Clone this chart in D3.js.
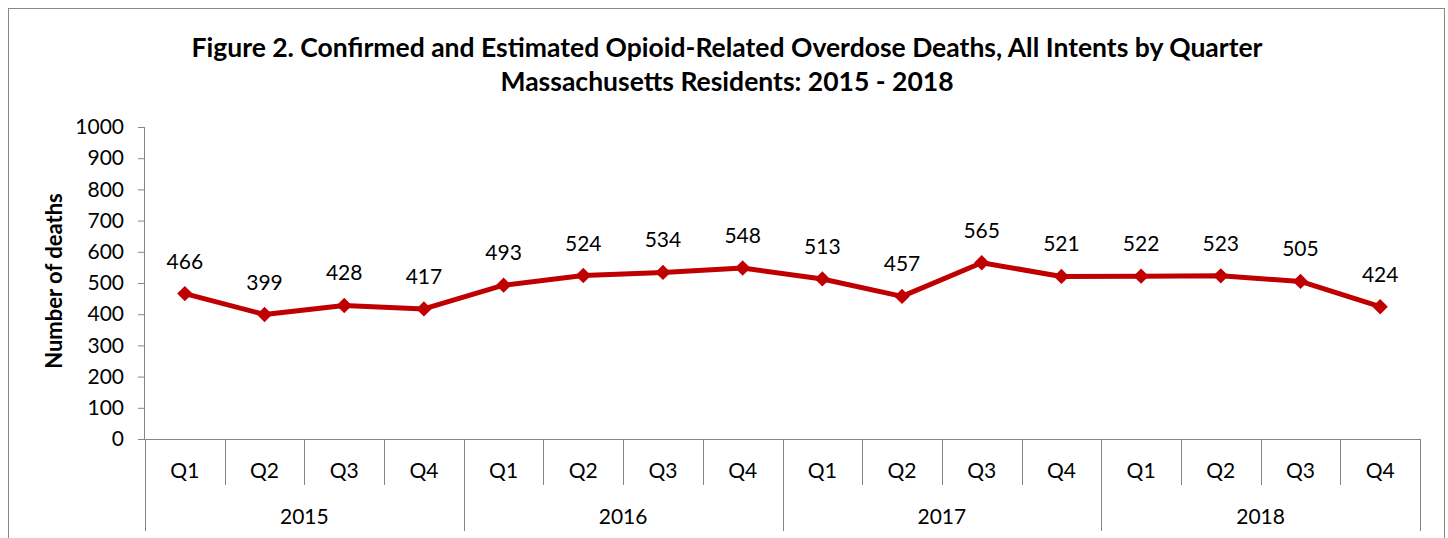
<!DOCTYPE html>
<html>
<head>
<meta charset="utf-8">
<script src="https://cdn.jsdelivr.net/npm/d3@7"></script>
<style>
  body { margin: 0; background: #fff; }
  svg { display: block; font-family: Lato, "Open Sans", sans-serif; }
</style>
</head>
<body>
<div id="chart"></div>
<script>
const years = ["2015", "2016", "2017", "2018"];
const quarters = ["Q1", "Q2", "Q3", "Q4"];
const deaths = [466, 399, 428, 417, 493, 524, 534, 548, 513, 457, 565, 521, 522, 523, 505, 424];
const yTicks = [0, 100, 200, 300, 400, 500, 600, 700, 800, 900, 1000];

const width = 1448;
const height = 538;
const margin = { top: 127, right: 28, bottom: 99, left: 145 };
const innerW = width - margin.left - margin.right;
const innerH = height - margin.top - margin.bottom;

const lineColor = "#c00000";
const axisColor = "#868686";
const fontSize = 21;

const svg = d3.select("#chart")
  .append("svg")
  .attr("width", width)
  .attr("height", height);

// outer frame
svg.append("rect")
  .attr("x", 8.5).attr("y", 8.5)
  .attr("width", 1436).attr("height", 560)
  .attr("fill", "none")
  .attr("stroke", "#888")
  .attr("stroke-width", 1);

// title
const title = svg.append("text")
  .attr("text-anchor", "middle")
  .attr("font-weight", "bold")
  .attr("font-size", 26.5)
  .attr("fill", "#000");
title.append("tspan").attr("x", 727).attr("y", 57)
  .text("Figure 2. Confirmed and Estimated Opioid-Related Overdose Deaths, All Intents by Quarter");
title.append("tspan").attr("x", 727).attr("y", 91)
  .text("Massachusetts Residents: 2015 - 2018");

const g = svg.append("g")
  .attr("transform", `translate(${margin.left},${margin.top})`);

const keys = [];
years.forEach(y => quarters.forEach(q => keys.push(y + "-" + q)));

const x = d3.scaleBand().domain(keys).range([0, innerW]);
const y = d3.scaleLinear().domain([0, 1000]).range([innerH, 0]);

// y axis
const yAxis = g.append("g")
  .call(d3.axisLeft(y).tickValues(yTicks).tickSize(7).tickPadding(14).tickFormat(d3.format("d")));
yAxis.select(".domain").attr("stroke", axisColor).attr("d", `M-0.5,${innerH}V0`);
yAxis.selectAll(".tick line").attr("stroke", axisColor);
yAxis.selectAll(".tick text")
  .attr("font-size", fontSize)
  .attr("font-family", "Lato, 'Open Sans', sans-serif")
  .attr("fill", "#000");

// y title
svg.append("text")
  .attr("transform", `translate(62,${margin.top + innerH / 2 - 2}) rotate(-90)`)
  .attr("text-anchor", "middle")
  .attr("font-weight", "bold")
  .attr("font-size", 22)
  .text("Number of deaths");

// x axis baseline
g.append("line")
  .attr("x1", -7).attr("x2", innerW)
  .attr("y1", innerH + 0.5).attr("y2", innerH + 0.5)
  .attr("stroke", axisColor);

// quarter separators and labels
const qDepth = 46;
const yDepth = 92;
keys.forEach((k, i) => {
  const x0 = Math.round(x(k)) + 0.5;
  const isYearStart = i % 4 === 0;
  g.append("line")
    .attr("x1", x0).attr("x2", x0)
    .attr("y1", innerH).attr("y2", innerH + (isYearStart ? yDepth : qDepth))
    .attr("stroke", axisColor);
  g.append("text")
    .attr("x", x(k) + x.bandwidth() / 2)
    .attr("y", innerH + 39)
    .attr("text-anchor", "middle")
    .attr("font-size", fontSize)
    .text(quarters[i % 4]);
});
// closing line at right end
g.append("line")
  .attr("x1", innerW + 0.5).attr("x2", innerW + 0.5)
  .attr("y1", innerH).attr("y2", innerH + yDepth)
  .attr("stroke", axisColor);

// year labels
years.forEach(yr => {
  const start = x(yr + "-Q1");
  const end = x(yr + "-Q4") + x.bandwidth();
  g.append("text")
    .attr("x", (start + end) / 2)
    .attr("y", innerH + 85)
    .attr("text-anchor", "middle")
    .attr("font-size", fontSize)
    .text(yr);
});

// line
const pts = deaths.map((d, i) => ({ key: keys[i], value: d }));
const line = d3.line()
  .x(d => x(d.key) + x.bandwidth() / 2)
  .y(d => y(d.value));

g.append("path")
  .datum(pts)
  .attr("fill", "none")
  .attr("stroke", lineColor)
  .attr("stroke-width", 5)
  .attr("stroke-linejoin", "round")
  .attr("d", line);

g.selectAll(".marker")
  .data(pts)
  .enter().append("path")
  .attr("class", "marker")
  .attr("d", d3.symbol().type(d3.symbolDiamond2).size(150))
  .attr("transform", d => `translate(${x(d.key) + x.bandwidth() / 2},${y(d.value)})`)
  .attr("fill", lineColor);

g.selectAll(".label")
  .data(pts)
  .enter().append("text")
  .attr("class", "label")
  .attr("x", d => x(d.key) + x.bandwidth() / 2)
  .attr("y", d => y(d.value) - 25)
  .attr("text-anchor", "middle")
  .attr("font-size", fontSize)
  .text(d => d.value);
</script>
</body>
</html>
